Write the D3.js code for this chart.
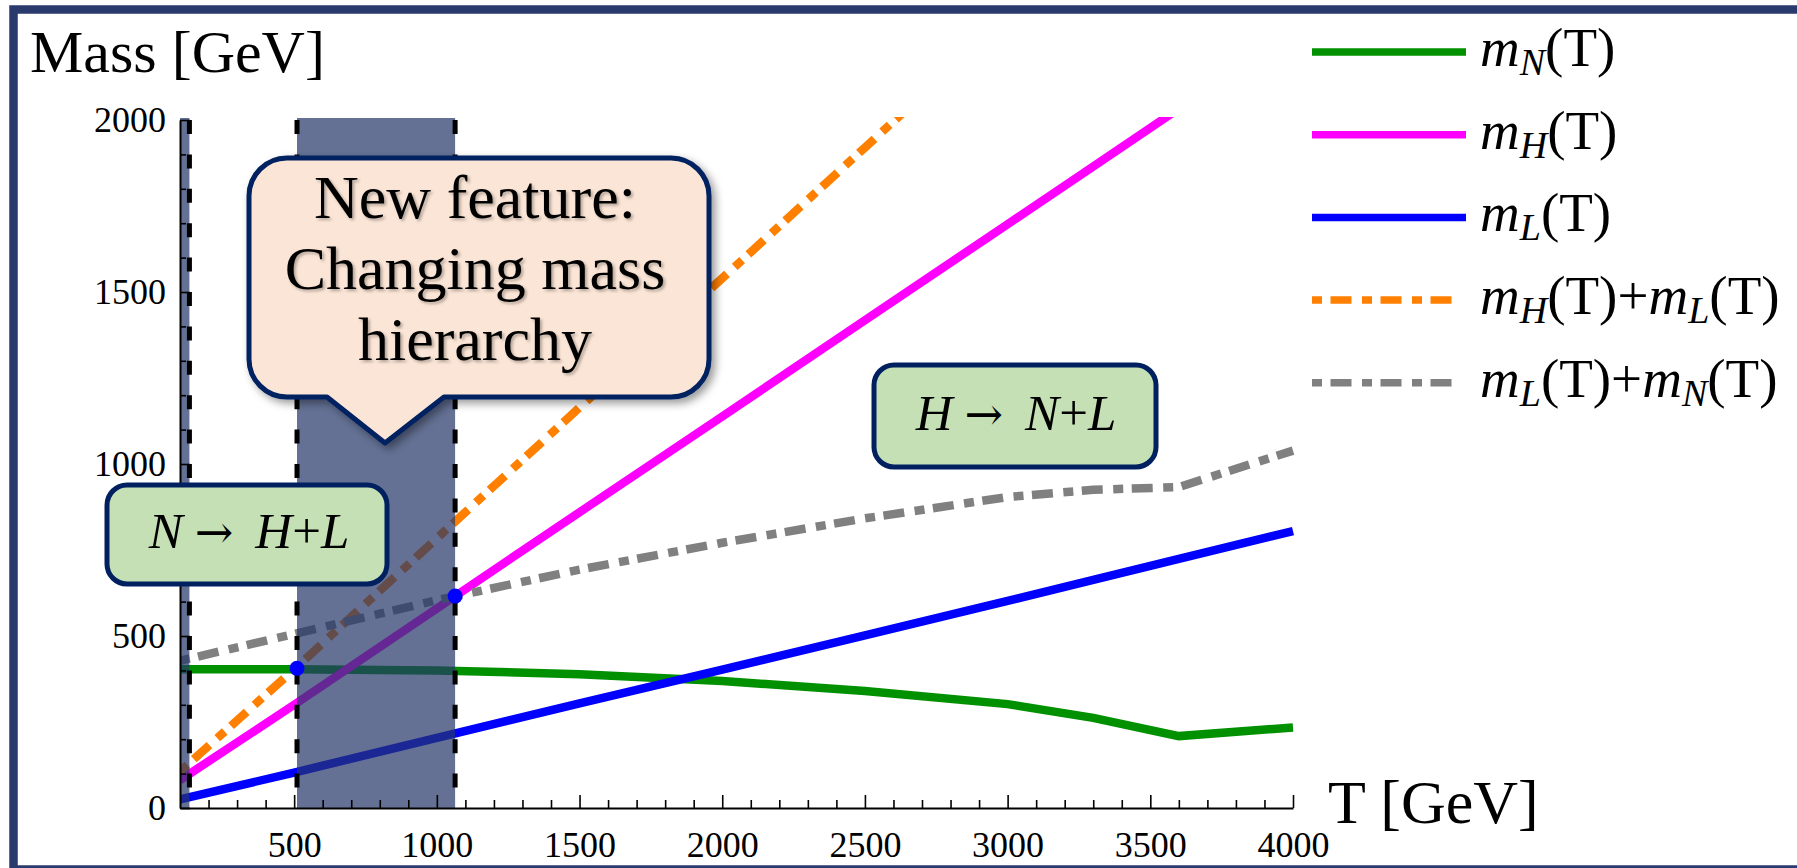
<!DOCTYPE html>
<html>
<head>
<meta charset="utf-8">
<script src="https://cdn.jsdelivr.net/npm/d3@7/dist/d3.min.js"></script>
<style>
  html, body { margin: 0; padding: 0; background: #fff; }
  svg { display: block; font-family: "Liberation Serif", "DejaVu Serif", serif; }
</style>
</head>
<body>
<svg id="chart" width="1797" height="868"></svg>
<script>

var temps  = [100, 500, 1000, 1500, 2000, 2500, 3000, 3300, 3600, 4000];
var massN  = [403, 403, 400, 389, 369, 340, 302, 262, 209, 234];
var massH  = [81, 300, 580, 860, 1138, 1418, 1697, 1865, 2033, 2257];
var massL  = [25, 103, 204, 304, 402, 502, 602, 663, 724, 805];
var massHL = [106, 403, 784, 1164, 1540, 1920, 2299, 2528, 2757, 3062];
var massLN = [428, 506, 604, 693, 771, 842, 904, 925, 933, 1039];

// shaded T ranges and the crossing points that bound them
var bands     = [[100, 133], [510, 1064]];
var crossings = [[510, 406], [1064, 616]];

var xTicks = [500, 1000, 1500, 2000, 2500, 3000, 3500, 4000];
var yTicks = [0, 500, 1000, 1500, 2000];

var legendLabels = [
  [["N"]],
  [["H"]],
  [["L"]],
  [["H"], ["L"]],
  [["L"], ["N"]]
];

var series = [
  { values: massN,  color: "#009000", dash: null },
  { values: massH,  color: "#ff00ff", dash: null },
  { values: massL,  color: "#0000ff", dash: null },
  { values: massHL, color: "#ff8000", dash: "10 8.5 21 10.5" },
  { values: massLN, color: "#808080", dash: "10 8.5 21 10.5" }
];

var svg = d3.select("#chart");
var navy = "#002060";

var x = d3.scaleLinear().domain([100, 4000]).range([180, 1293]);
var y = d3.scaleLinear().domain([0, 2000]).range([808, 120]);

var defs = svg.append("defs");
defs.append("clipPath").attr("id", "plotClip")
  .append("rect")
  .attr("x", x(100)).attr("y", y(2000) - 3)
  .attr("width", x(4000) - x(100) + 4).attr("height", y(0) - y(2000) + 3);

var shadow = defs.append("filter").attr("id", "boxShadow")
  .attr("x", "-10%").attr("y", "-10%").attr("width", "130%").attr("height", "130%");
shadow.append("feDropShadow").attr("dx", 4).attr("dy", 4).attr("stdDeviation", 4)
  .attr("flood-color", "#000").attr("flood-opacity", 0.4);

var textShadow = defs.append("filter").attr("id", "textShadow")
  .attr("x", "-10%").attr("y", "-20%").attr("width", "130%").attr("height", "150%");
textShadow.append("feDropShadow").attr("dx", 2).attr("dy", 2).attr("stdDeviation", 1.5)
  .attr("flood-color", "#000").attr("flood-opacity", 0.3);

// outer frame
svg.append("rect")
  .attr("x", 13.5).attr("y", 9.5)
  .attr("width", 1820).attr("height", 860)
  .attr("fill", "#fff")
  .attr("stroke", "#2a3a6c").attr("stroke-width", 8.5);

// curves
var line = d3.line()
  .x(function(d, i){ return x(temps[i]); })
  .y(function(d){ return y(d); });

svg.append("g").attr("clip-path", "url(#plotClip)")
  .selectAll("path").data(series).enter()
  .append("path")
  .attr("d", function(s){ return line(s.values); })
  .attr("fill", "none")
  .attr("stroke", function(s){ return s.color; })
  .attr("stroke-width", 8.5)
  .attr("stroke-dasharray", function(s){ return s.dash; });

// shaded bands on top of the curves
svg.append("g").selectAll("rect").data(bands).enter()
  .append("rect")
  .attr("x", function(b){ return x(b[0]); })
  .attr("y", y(2000) - 2)
  .attr("width", function(b){ return x(b[1]) - x(b[0]); })
  .attr("height", y(0) - y(2000) + 2)
  .attr("fill", "#253768").attr("fill-opacity", 0.71);

var edges = [bands[0][1], bands[1][0], bands[1][1]];
svg.append("g").selectAll("line").data(edges).enter()
  .append("line")
  .attr("x1", function(d){ return x(d); }).attr("x2", function(d){ return x(d); })
  .attr("y1", y(2000)).attr("y2", y(0))
  .attr("stroke", "#000").attr("stroke-width", 5)
  .attr("stroke-dasharray", "14 20.4");

// axes
var minorX = d3.range(200, 4000, 100).filter(function(t){ return t % 500 !== 0; });
var minorY = d3.range(100, 2000, 100).filter(function(t){ return t % 500 !== 0; });

function styleAxis(g){
  g.attr("font-family", "\"Liberation Serif\", \"DejaVu Serif\", serif").attr("font-size", 36);
  g.select(".domain").attr("stroke-width", 2);
  g.selectAll(".tick line").attr("stroke-width", 1.6);
}

svg.append("g").attr("transform", "translate(0," + y(0) + ")")
  .call(d3.axisBottom(x).tickValues(minorX).tickSize(-8).tickFormat(""))
  .call(function(g){ g.select(".domain").remove(); g.selectAll(".tick line").attr("stroke-width", 1.6); });

svg.append("g").attr("transform", "translate(0," + y(0) + ")")
  .call(d3.axisBottom(x).tickValues(xTicks).tickSizeInner(-13).tickSizeOuter(0)
    .tickPadding(23).tickFormat(d3.format("d")))
  .call(styleAxis);

svg.append("g").attr("transform", "translate(" + x(100) + ",0)")
  .call(d3.axisLeft(y).tickValues(minorY).tickSize(-6).tickFormat(""))
  .call(function(g){ g.select(".domain").remove(); g.selectAll(".tick line").attr("stroke-width", 1.6); });

svg.append("g").attr("transform", "translate(" + x(100) + ",0)")
  .call(d3.axisLeft(y).tickValues(yTicks).tickSizeInner(-10).tickSizeOuter(0)
    .tickPadding(14).tickFormat(d3.format("d")))
  .call(styleAxis);

// crossing points
svg.append("g").selectAll("circle").data(crossings).enter()
  .append("circle")
  .attr("cx", function(d){ return x(d[0]); })
  .attr("cy", function(d){ return y(d[1]); })
  .attr("r", 7.5)
  .attr("fill", "#0000ff");

// axis titles
svg.append("text").attr("x", 30).attr("y", 72)
  .attr("font-size", 60).text("Mass [GeV]");
svg.append("text").attr("x", 1328).attr("y", 823)
  .attr("font-size", 62).text("T [GeV]");

// decay boxes
function decayBox(bx, by, bw, bh, cx, base, a, b, c){
  svg.append("rect")
    .attr("x", bx).attr("y", by).attr("width", bw).attr("height", bh)
    .attr("rx", 20).attr("ry", 20)
    .attr("fill", "#c5e0b4").attr("stroke", navy).attr("stroke-width", 5);
  var t = svg.append("text").attr("x", cx).attr("y", base)
    .attr("font-size", 51).attr("text-anchor", "middle");
  t.append("tspan").attr("font-style", "italic").text(a);
  t.append("tspan").attr("dx", 12).attr("font-family", "\"DejaVu Serif\", serif").attr("font-size", 46)
    .text("\u2192");
  t.append("tspan").attr("dx", 22).attr("font-style", "italic").text(b);
  t.append("tspan").text("+");
  t.append("tspan").attr("font-style", "italic").text(c);
}
decayBox(107, 485, 280, 99, 249, 548, "N", "H", "L");
decayBox(874, 365, 282, 102, 1016, 430, "H", "N", "L");

// callout with pointer
var c = { x0: 249, y0: 158, x1: 709, y1: 397, r: 38, p0: 327, p1: 444, tx: 385, ty: 443 };
var calloutPath = "M" + (c.x0 + c.r) + "," + c.y0 +
  "H" + (c.x1 - c.r) +
  "A" + c.r + "," + c.r + " 0 0 1 " + c.x1 + "," + (c.y0 + c.r) +
  "V" + (c.y1 - c.r) +
  "A" + c.r + "," + c.r + " 0 0 1 " + (c.x1 - c.r) + "," + c.y1 +
  "H" + c.p1 + "L" + c.tx + "," + c.ty + "L" + c.p0 + "," + c.y1 +
  "H" + (c.x0 + c.r) +
  "A" + c.r + "," + c.r + " 0 0 1 " + c.x0 + "," + (c.y1 - c.r) +
  "V" + (c.y0 + c.r) +
  "A" + c.r + "," + c.r + " 0 0 1 " + (c.x0 + c.r) + "," + c.y0 + "Z";

svg.append("path").attr("d", calloutPath)
  .attr("fill", "#fbe5d6").attr("stroke", navy).attr("stroke-width", 5)
  .attr("stroke-linejoin", "round")
  .attr("filter", "url(#boxShadow)");

var calloutLines = ["New feature:", "Changing mass", "hierarchy"];
svg.append("g").attr("filter", "url(#textShadow)")
  .selectAll("text").data(calloutLines).enter()
  .append("text")
  .attr("x", 475)
  .attr("y", function(d, i){ return 218 + i * 71; })
  .attr("font-size", 62).attr("text-anchor", "middle")
  .text(function(d){ return d; });

// legend
var legend = svg.append("g");
legendLabels.forEach(function(terms, i){
  var s = series[i];
  var ly = 52 + i * 82.7;
  legend.append("line")
    .attr("x1", 1312).attr("x2", s.dash ? 1453 : 1466)
    .attr("y1", ly).attr("y2", ly)
    .attr("stroke", s.color).attr("stroke-width", 7.5)
    .attr("stroke-dasharray", s.dash);
  var t = legend.append("text").attr("x", 1480).attr("y", ly + 14).attr("font-size", 55);
  terms.forEach(function(term, k){
    if (k > 0) t.append("tspan").text("+");
    t.append("tspan").attr("font-style", "italic").text("m");
    t.append("tspan").attr("font-style", "italic").attr("font-size", 38).attr("dy", 9).text(term[0]);
    t.append("tspan").attr("dy", -9).text("(T)");
  });
});

</script>
